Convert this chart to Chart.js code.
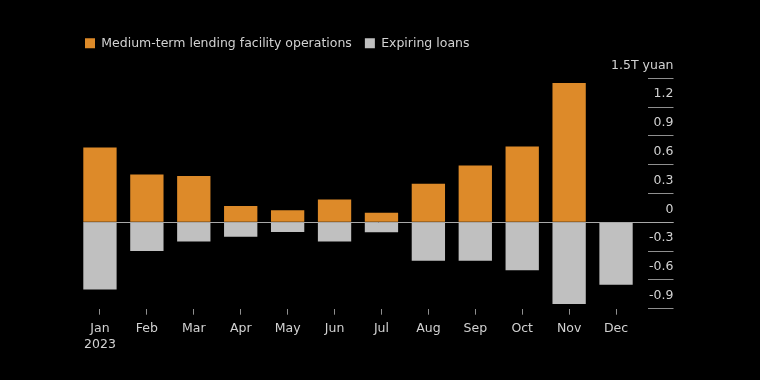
<!DOCTYPE html>
<html><head><meta charset="utf-8">
<script src="https://cdn.jsdelivr.net/npm/chart.js@4"></script>
<style>html,body{margin:0;padding:0;background:#000;}</style>
</head><body>
<canvas id="c" width="760" height="380"></canvas>
<script>
// ---- data (trillion yuan) ----
const months = [['Jan', '2023'], 'Feb', 'Mar', 'Apr', 'May', 'Jun', 'Jul', 'Aug', 'Sep', 'Oct', 'Nov', 'Dec'];
const mlfOperations = [0.779, 0.499, 0.481, 0.170, 0.125, 0.237, 0.100, 0.401, 0.591, 0.789, 1.450, null];
const expiringLoans = [-0.700, -0.300, -0.200, -0.150, -0.100, -0.200, -0.103, -0.400, -0.400, -0.500, -0.850, -0.650];
const yTicks = [-0.9, -0.6, -0.3, 0, 0.3, 0.6, 0.9, 1.2, 1.5];
const yUnit = 'T yuan';
const seriesNames = ['Medium-term lending facility operations', 'Expiring loans'];

const FONT = 'DejaVu Sans';
const FS = 12.5;
const TEXT = '#d2d2d2';
const LINE = '#8f8f8f';

const zeroLine = {
  id: 'zeroLine',
  afterDatasetsDraw(chart) {
    const ys = chart.scales.y;
    const y = Math.round(ys.getPixelForValue(0)) + 0.5;
    const bar = chart.getDatasetMeta(1).data[0];
    const x0 = bar.x - bar.width / 2;
    const ctx = chart.ctx;
    ctx.save();
    ctx.strokeStyle = '#a8a8a8';
    ctx.lineWidth = 1;
    ctx.beginPath();
    ctx.moveTo(x0, y);
    ctx.lineTo(ys.right, y);
    ctx.stroke();
    ctx.restore();
  }
};

new Chart(document.getElementById('c'), {
  type: 'bar',
  data: {
    labels: months,
    datasets: [
      { label: seriesNames[0], data: mlfOperations, backgroundColor: '#dd8a29', borderWidth: 0, xAxisID: 'x', yAxisID: 'y' },
      { label: seriesNames[1], data: expiringLoans, backgroundColor: '#c0c0c0', borderWidth: 0, xAxisID: 'x', yAxisID: 'y' }
    ]
  },
  options: {
    responsive: false,
    devicePixelRatio: 1,
    animation: false,
    barPercentage: 0.71,
    categoryPercentage: 1,
    layout: { padding: { left: 72, right: 86.5, top: 24, bottom: 21.3 } },
    plugins: {
      legend: {
        position: 'top', align: 'start',
        labels: { boxWidth: 10, boxHeight: 10, padding: 13, color: TEXT, font: { family: FONT, size: FS } }
      },
      tooltip: { enabled: false }
    },
    scales: {
      x: {
        stacked: true, offset: true,
        border: { display: false },
        grid: { drawOnChartArea: false, drawTicks: true, tickLength: 6, tickColor: LINE, offset: false },
        ticks: { color: TEXT, font: { family: FONT, size: FS, lineHeight: 1.3 }, padding: 6, maxRotation: 0, autoSkip: false },
        afterFit: s => { s.height = 50; }
      },
      y: {
        position: 'right', stacked: true, min: -0.9, max: 1.5,
        afterBuildTicks: s => { s.ticks = yTicks.map(v => ({ value: v })); },
        afterFit: s => { s.width = 34; },
        border: { display: false },
        grid: { drawOnChartArea: false, drawTicks: true, tickLength: 34, tickColor: LINE, tickWidth: 1, tickBorderDash: [0, 8, 26, 0] },
        ticks: {
          color: TEXT, font: { family: FONT, size: FS }, mirror: true, crossAlign: 'near', labelOffset: -13, padding: 34,
          callback: v => {
            const s = String(Math.round(v * 10) / 10);
            return v === yTicks[yTicks.length - 1] ? s + yUnit : s;
          }
        }
      },
      padL: {
        type: 'linear', position: 'left', display: true,
        grid: { display: false }, ticks: { display: false }, border: { display: false },
        afterFit: s => { s.width = 4.5; }
      },
      padT: {
        type: 'linear', position: 'top', display: true,
        grid: { display: false }, ticks: { display: false }, border: { display: false },
        afterFit: s => { s.height = Math.max(0, 78.3 - 24 - s.chart.legend.height); }
      }
    }
  },
  plugins: [zeroLine]
});
</script>
</body></html>
